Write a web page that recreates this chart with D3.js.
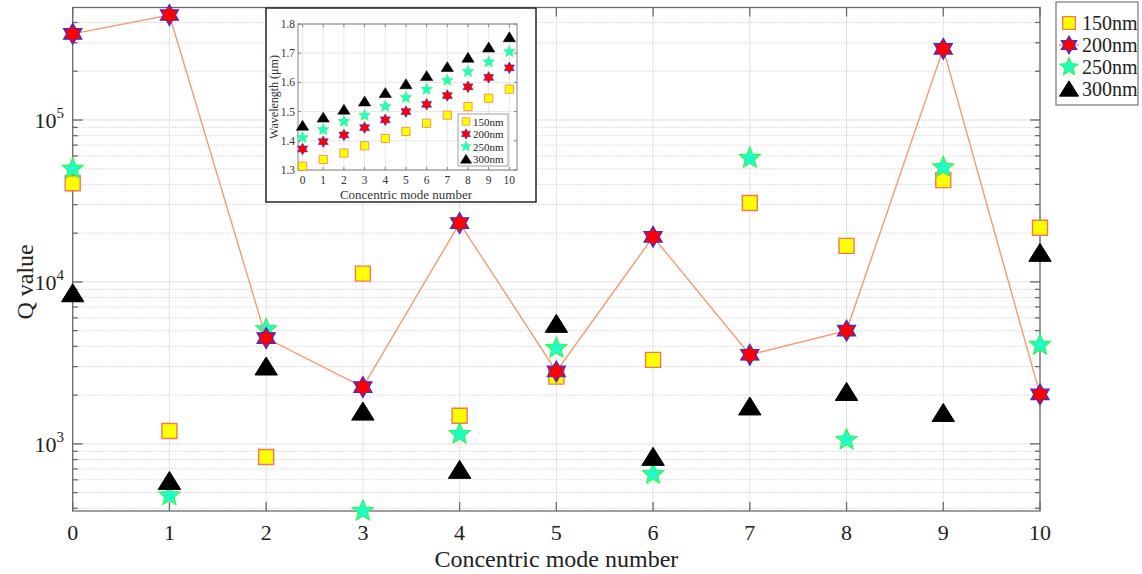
<!DOCTYPE html>
<html>
<head>
<meta charset="utf-8">
<script src="https://cdn.jsdelivr.net/npm/d3@7"></script>
<style>
  body { margin: 0; background: #fff; }
  svg { font-family: "Liberation Serif", "Times New Roman", serif; }
</style>
</head>
<body>
<div class="chart"></div>
<script>
// data
const modes = [0, 1, 2, 3, 4, 5, 6, 7, 8, 9, 10];
const q150 = [40700, 1200, 830, 11250, 1490, 2600, 3300, 30700, 16700, 42500, 21600];
const q200 = [340000, 445000, 4500, 2240, 23100, 2800, 19000, 3550, 5000, 275000, 2020];
const q250 = [49900, 480, 5100, 385, 1150, 3900, 650, 58100, 1060, 51000, 4080];
const q300 = [8500, 590, 3000, 1580, 690, 5500, 830, 1700, 2090, 1550, 15100];
const seriesNames = ['150nm', '200nm', '250nm', '300nm'];

// inset: wavelength (um)
const wl150 = [1.313, 1.336, 1.358, 1.383, 1.408, 1.432, 1.460, 1.488, 1.517, 1.546, 1.577];
const wl200 = [1.372, 1.397, 1.420, 1.445, 1.472, 1.500, 1.525, 1.555, 1.585, 1.617, 1.650];
const wl250 = [1.411, 1.438, 1.466, 1.487, 1.518, 1.548, 1.576, 1.607, 1.637, 1.670, 1.705];
const wl300 = [1.452, 1.480, 1.507, 1.535, 1.564, 1.594, 1.622, 1.653, 1.685, 1.720, 1.755];
const yTicksInset = [1.3, 1.4, 1.5, 1.6, 1.7, 1.8];

const width = 1142, height = 574;
const svg = d3.select('.chart').append('svg').attr('width', width).attr('height', height);

// star path with n points
const starPath = (n, r, ratio) => {
  let pts = [];
  for (let i = 0; i < 2 * n; i++) {
    const a = -Math.PI / 2 + i * Math.PI / n;
    const rr = i % 2 === 0 ? r : r * ratio;
    pts.push([rr * Math.cos(a), rr * Math.sin(a)]);
  }
  return 'M' + pts.map(p => p.join(',')).join('L') + 'Z';
};
const squarePath = s => `M${-s/2},${-s/2}H${s/2}V${s/2}H${-s/2}Z`;
const triPath = s => `M0,${-s*0.48}L${s*0.56},${s*0.42}L${-s*0.56},${s*0.42}Z`;

const styles = {
  '150nm': { path: k => squarePath(15 * k), fill: '#ffff00', stroke: '#f4794f', sw: 1.4 },
  '200nm': { path: k => starPath(6, 10.5 * k, 0.58), fill: '#ff0000', stroke: '#3a2fd6', sw: 1.2 },
  '250nm': { path: k => starPath(5, 11 * k, 0.45), fill: '#1effc8', stroke: '#3cf05a', sw: 1.2 },
  '300nm': { path: k => triPath(20 * k), fill: '#000', stroke: '#000', sw: 1 }
};
const lineColor = '#f39a73';

// ---------- main plot ----------
const m = { left: 72.7, right: 1040, top: 7.5, bottom: 511 };
const x = d3.scaleLinear().domain([0, 10]).range([m.left, m.right]);
const y = d3.scaleLog().domain([385, 495000]).range([m.bottom, m.top]);

const majors = [1e3, 1e4, 1e5];
const minors = [];
[100, 1000, 10000, 100000].forEach(d => {
  for (let k = 2; k <= 9; k++) {
    const v = d * k;
    if (v >= y.domain()[0] && v <= y.domain()[1]) minors.push(v);
  }
});

const grid = svg.append('g');
grid.selectAll('.vg').data(modes).join('line')
  .attr('x1', d => x(d)).attr('x2', d => x(d))
  .attr('y1', m.top).attr('y2', m.bottom)
  .attr('stroke', '#e3e3e3').attr('stroke-width', 1);
grid.selectAll('.mg').data(minors).join('line')
  .attr('x1', m.left).attr('x2', m.right)
  .attr('y1', d => y(d)).attr('y2', d => y(d))
  .attr('stroke', '#d4d4d4').attr('stroke-width', 1).attr('stroke-dasharray', '1.5,1.5');
grid.selectAll('.Mg').data(majors).join('line')
  .attr('x1', m.left).attr('x2', m.right)
  .attr('y1', d => y(d)).attr('y2', d => y(d))
  .attr('stroke', '#e0e0e0').attr('stroke-width', 1);

// axes (ticks inward, box on)
const axisColor = '#6a6a6a';
const axes = svg.append('g').attr('stroke', axisColor).attr('stroke-width', 1.3);
axes.append('rect')
  .attr('x', m.left).attr('y', m.top)
  .attr('width', m.right - m.left).attr('height', m.bottom - m.top)
  .attr('fill', 'none');
modes.forEach(d => {
  axes.append('line').attr('x1', x(d)).attr('x2', x(d)).attr('y1', m.bottom).attr('y2', m.bottom - 9);
  axes.append('line').attr('x1', x(d)).attr('x2', x(d)).attr('y1', m.top).attr('y2', m.top + 9);
});
majors.forEach(d => {
  axes.append('line').attr('x1', m.left).attr('x2', m.left + 10).attr('y1', y(d)).attr('y2', y(d));
  axes.append('line').attr('x1', m.right).attr('x2', m.right - 10).attr('y1', y(d)).attr('y2', y(d));
});
minors.forEach(d => {
  axes.append('line').attr('x1', m.left).attr('x2', m.left + 5).attr('y1', y(d)).attr('y2', y(d));
  axes.append('line').attr('x1', m.right).attr('x2', m.right - 5).attr('y1', y(d)).attr('y2', y(d));
});

// tick labels
svg.append('g').selectAll('text').data(modes).join('text')
  .attr('x', d => x(d)).attr('y', 540)
  .attr('text-anchor', 'middle').attr('font-size', 22).attr('fill', '#222')
  .text(d => d);
const yl = svg.append('g').selectAll('text').data(majors).join('text')
  .attr('x', 64).attr('y', d => y(d) + 8)
  .attr('text-anchor', 'end').attr('font-size', 22).attr('fill', '#222');
yl.append('tspan').text('10');
yl.append('tspan').attr('font-size', 15).attr('dy', -10).text(d => Math.round(Math.log10(d)));

svg.append('text')
  .attr('x', (m.left + m.right) / 2 + 0).attr('y', 567)
  .attr('text-anchor', 'middle').attr('font-size', 24).attr('fill', '#222')
  .text('Concentric mode number');
svg.append('text')
  .attr('transform', `translate(33, ${y(1e4)}) rotate(-90)`)
  .attr('text-anchor', 'middle').attr('font-size', 24).attr('fill', '#222')
  .text('Q value');

// series
const mainData = { '150nm': q150, '200nm': q200, '250nm': q250, '300nm': q300 };
const drawMarkers = (g, name, xs, ys, sx, sy, k) => {
  const st = styles[name];
  g.append('g').selectAll('path').data(xs.map((d, i) => [d, ys[i]])).join('path')
    .attr('transform', d => `translate(${sx(d[0])},${sy(d[1])})`)
    .attr('d', st.path(k))
    .attr('fill', st.fill).attr('stroke', st.stroke).attr('stroke-width', st.sw * k);
};
const plot = svg.append('g');
drawMarkers(plot, '150nm', modes, q150, x, y, 1);
drawMarkers(plot, '250nm', modes, q250, x, y, 1);
drawMarkers(plot, '300nm', modes, q300, x, y, 1);
plot.append('path')
  .datum(modes.map((d, i) => [d, q200[i]]))
  .attr('d', d3.line().x(d => x(d[0])).y(d => y(d[1])))
  .attr('fill', 'none').attr('stroke', lineColor).attr('stroke-width', 1.4);
drawMarkers(plot, '200nm', modes, q200, x, y, 1);

// legend
const lg = svg.append('g');
lg.append('rect').attr('x', 1056).attr('y', 2).attr('width', 82).attr('height', 103)
  .attr('fill', '#fff').attr('stroke', '#777').attr('stroke-width', 1.2);
seriesNames.forEach((name, i) => {
  const ly = 23 + i * 22;
  if (name === '200nm') {
    lg.append('line').attr('x1', 1059).attr('x2', 1079).attr('y1', ly).attr('y2', ly)
      .attr('stroke', lineColor).attr('stroke-width', 1.4);
  }
  const st = styles[name];
  lg.append('path').attr('transform', `translate(1069,${ly})`).attr('d', st.path(0.85))
    .attr('fill', st.fill).attr('stroke', st.stroke).attr('stroke-width', st.sw);
  lg.append('text').attr('x', 1082).attr('y', ly + 7).attr('font-size', 20).attr('fill', '#222').text(name);
});

// ---------- inset ----------
const ins = svg.append('g');
ins.append('rect').attr('x', 266).attr('y', 8).attr('width', 270).attr('height', 194)
  .attr('fill', '#fff').attr('stroke', '#333').attr('stroke-width', 1.6);
const im = { left: 298, right: 517, top: 24, bottom: 170 };
const ix = d3.scaleLinear().domain([-0.22, 10.37]).range([im.left, im.right]);
const iy = d3.scaleLinear().domain([1.3, 1.8]).range([im.bottom, im.top]);

ins.selectAll('.ivg').data(modes).join('line')
  .attr('x1', d => ix(d)).attr('x2', d => ix(d)).attr('y1', im.top).attr('y2', im.bottom)
  .attr('stroke', '#e6e6e6');
ins.selectAll('.ihg').data(yTicksInset).join('line')
  .attr('x1', im.left).attr('x2', im.right).attr('y1', d => iy(d)).attr('y2', d => iy(d))
  .attr('stroke', '#e6e6e6');
const iax = ins.append('g').attr('stroke', '#777').attr('stroke-width', 0.9);
iax.append('rect').attr('x', im.left).attr('y', im.top)
  .attr('width', im.right - im.left).attr('height', im.bottom - im.top).attr('fill', 'none');
modes.forEach(d => {
  iax.append('line').attr('x1', ix(d)).attr('x2', ix(d)).attr('y1', im.bottom).attr('y2', im.bottom - 3);
  iax.append('line').attr('x1', ix(d)).attr('x2', ix(d)).attr('y1', im.top).attr('y2', im.top + 3);
});
yTicksInset.forEach(d => {
  iax.append('line').attr('x1', im.left).attr('x2', im.left + 3).attr('y1', iy(d)).attr('y2', iy(d));
  iax.append('line').attr('x1', im.right).attr('x2', im.right - 3).attr('y1', iy(d)).attr('y2', iy(d));
});
ins.append('g').selectAll('text').data(modes).join('text')
  .attr('x', d => ix(d)).attr('y', 184).attr('text-anchor', 'middle')
  .attr('font-size', 11.5).attr('fill', '#333').text(d => d);
ins.append('g').selectAll('text').data(yTicksInset).join('text')
  .attr('x', 295).attr('y', d => iy(d) + 4).attr('text-anchor', 'end')
  .attr('font-size', 11.5).attr('fill', '#333').text(d => d.toFixed(1));
ins.append('text').attr('x', 406).attr('y', 199).attr('text-anchor', 'middle')
  .attr('font-size', 13).attr('fill', '#333').text('Concentric mode number');
ins.append('text').attr('transform', `translate(278, ${(im.top + im.bottom) / 2}) rotate(-90)`)
  .attr('text-anchor', 'middle').attr('font-size', 12).attr('fill', '#333').text('Wavelength (μm)');

const insetData = { '150nm': wl150, '200nm': wl200, '250nm': wl250, '300nm': wl300 };
seriesNames.forEach(name => drawMarkers(ins, name, modes, insetData[name], ix, iy, 0.55));

// inset legend
const il = ins.append('g');
il.append('rect').attr('x', 458).attr('y', 114).attr('width', 50).attr('height', 52)
  .attr('fill', '#fff').attr('stroke', '#888').attr('stroke-width', 0.8);
seriesNames.forEach((name, i) => {
  const ly = 121.5 + i * 12.5;
  const st = styles[name];
  il.append('path').attr('transform', `translate(466,${ly})`).attr('d', st.path(0.5))
    .attr('fill', st.fill).attr('stroke', st.stroke).attr('stroke-width', st.sw * 0.5);
  il.append('text').attr('x', 473).attr('y', ly + 4).attr('font-size', 11).attr('fill', '#222').text(name);
});
</script>
</body>
</html>
